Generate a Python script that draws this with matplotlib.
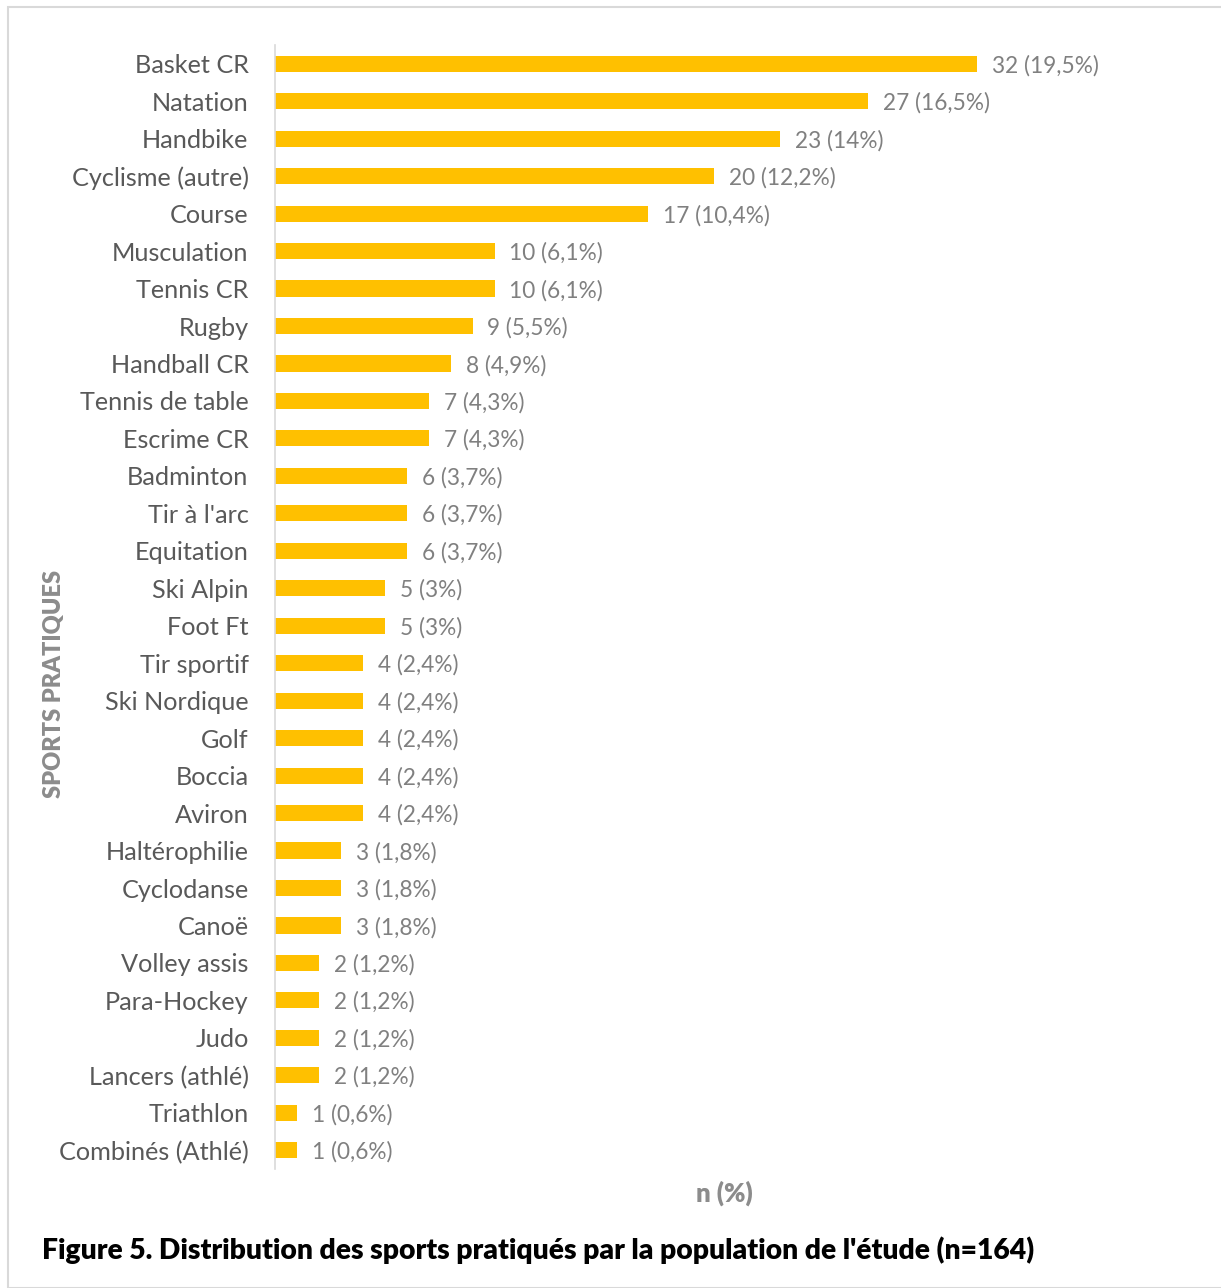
import matplotlib.pyplot as plt
from matplotlib.patches import Rectangle

# -----------------------------
# Data
# -----------------------------
sports = ["Basket CR", "Natation", "Handbike", "Cyclisme (autre)", "Course",
          "Musculation", "Tennis CR", "Rugby", "Handball CR", "Tennis de table",
          "Escrime CR", "Badminton", "Tir à l'arc", "Equitation", "Ski Alpin",
          "Foot Ft", "Tir sportif", "Ski Nordique", "Golf", "Boccia", "Aviron",
          "Haltérophilie", "Cyclodanse", "Canoë", "Volley assis", "Para-Hockey",
          "Judo", "Lancers (athlé)", "Triathlon", "Combinés (Athlé)"]
counts = [32, 27, 23, 20, 17, 10, 10, 9, 8, 7, 7, 6, 6, 6, 5, 5, 4, 4, 4, 4, 4,
          3, 3, 3, 2, 2, 2, 2, 1, 1]
percents = ["19,5", "16,5", "14", "12,2", "10,4", "6,1", "6,1", "5,5", "4,9", "4,3",
            "4,3", "3,7", "3,7", "3,7", "3", "3", "2,4", "2,4", "2,4", "2,4", "2,4",
            "1,8", "1,8", "1,8", "1,2", "1,2", "1,2", "1,2", "0,6", "0,6"]

plt.rcParams['font.family'] = ['Lato', 'DejaVu Sans']

W, H = 1221, 1288
fig = plt.figure(figsize=(W / 100, H / 100), dpi=100)

# light frame around the figure
fig.patches.append(Rectangle((8 / W, 0), 1, 1 - 7 / H, transform=fig.transFigure,
                             fill=False, edgecolor="#d9d9d9", linewidth=1.5))

# axes placed in pixel coordinates
x0, x1 = 275, 1153
y_top, y_bot = 45, 1169
ax = fig.add_axes([x0 / W, 1 - y_bot / H, (x1 - x0) / W, (y_bot - y_top) / H])

ypos = list(range(len(sports)))
ax.barh(ypos, counts, height=0.43, color="#FFC000")
ax.set_ylim(len(sports) - 0.5, -0.5)
ax.set_xlim(0, 40)

for y, c, p in zip(ypos, counts, percents):
    ax.text(c + 0.68, y + 0.05, f"{c} ({p}%)", va="center", ha="left",
            fontsize=16.3, color="#808080")

ax.set_yticks(ypos)
ax.set_yticklabels(sports, fontsize=18.2, color="#595959")
ax.tick_params(axis="y", length=0, pad=19)
ax.set_xticks([])

for s in ["top", "right", "bottom"]:
    ax.spines[s].set_visible(False)
ax.spines["left"].set_color("#d9d9d9")
ax.spines["left"].set_linewidth(1.2)

fig.text(54 / W, 1 - 684 / H, "SPORTS PRATIQUES", rotation=90, ha="center",
         va="center", fontsize=17, fontweight="heavy", color="#8c8c8c")
fig.text(724 / W, 1 - 1193 / H, "n (%)", ha="center", va="center",
         fontsize=18.5, fontweight="heavy", color="#8c8c8c")
fig.text(42 / W, 1 - 1250 / H,
         "Figure 5. Distribution des sports pratiqués par la population de l'étude (n=164)",
         ha="left", va="center", fontsize=20.3, fontweight="heavy", color="black")

fig.savefig("out.png", dpi=100)
